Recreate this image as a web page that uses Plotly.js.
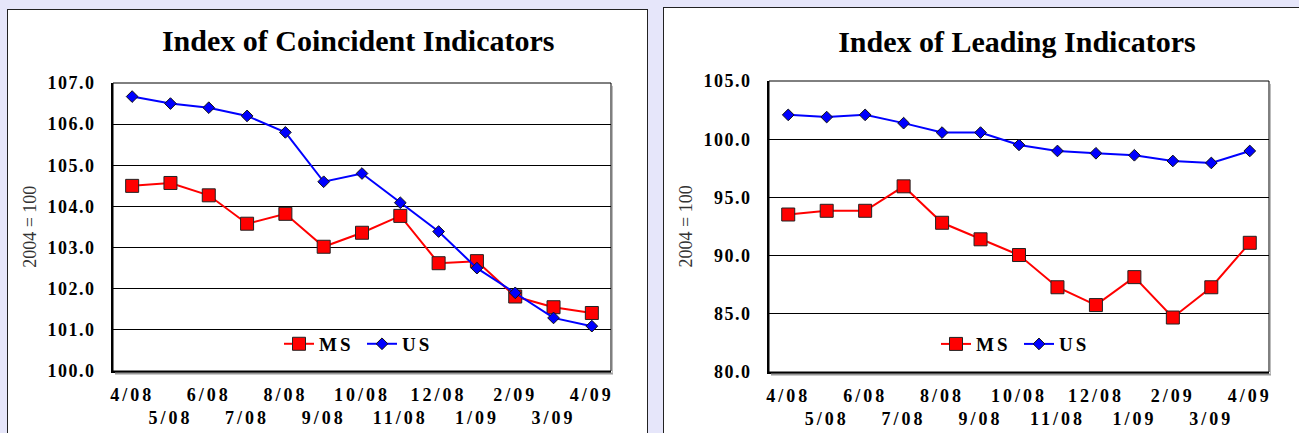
<!DOCTYPE html>
<html><head><meta charset="utf-8">
<script src="https://cdn.plot.ly/plotly-3.0.1.min.js"></script>
<style>
html,body{margin:0;padding:0;background:#e6e6fa;width:1299px;height:433px;overflow:hidden;}
.panel{position:absolute;border:1px solid #222;background:#fff;overflow:hidden;}
#p1{left:7px;top:9px;width:639px;height:440px;}
#p2{left:663px;top:7px;width:650px;height:440px;}
.xtick text{letter-spacing:3px;}
.ytick text{letter-spacing:1.5px;}
.legendtext{letter-spacing:3px;}
</style></head><body>
<div id="p1" class="panel"><div id="c1"></div></div>
<div id="p2" class="panel"><div id="c2"></div></div>
<script>
const months = ["4/08","5/08","6/08","7/08","8/08","9/08","10/08","11/08","12/08","1/09","2/09","3/09","4/09"];
const monthLabels = ["4/08","<br>5/08","6/08","<br>7/08","8/08","<br>9/08","10/08","<br>11/08","12/08","<br>1/09","2/09","<br>3/09","4/09"];
const coincidentMS = [104.5, 104.57, 104.27, 103.58, 103.82, 103.02, 103.36, 103.77, 102.62, 102.67, 101.81, 101.55, 101.41];
const coincidentUS = [106.67, 106.5, 106.4, 106.2, 105.8, 104.6, 104.8, 104.09, 103.39, 102.5, 101.9, 101.29, 101.09];
const leadingMS = [93.53, 93.85, 93.85, 95.95, 92.82, 91.4, 90.05, 87.28, 85.75, 88.15, 84.68, 87.28, 91.1];
const leadingUS = [102.09, 101.9, 102.09, 101.38, 100.57, 100.57, 99.51, 98.99, 98.79, 98.62, 98.13, 97.96, 98.99];
const seriesNames = ["MS", "US"];
const titles = ["Index of Coincident Indicators", "Index of Leading Indicators"];
const yAxisLabel = "2004 = 100";

const serif = "Liberation Serif, Times New Roman, serif";
function traces(ms, us){
  return [
    {x: months, y: ms, name: seriesNames[0], type:'scatter', mode:'lines+markers',
     line:{color:'#ff0000', width:2},
     marker:{symbol:'square', size:13, color:'#ff0000', line:{color:'#222', width:1}}},
    {x: months, y: us, name: seriesNames[1], type:'scatter', mode:'lines+markers',
     line:{color:'#0000ff', width:2},
     marker:{symbol:'diamond', size:9, color:'#0000ff', line:{color:'#111', width:1}}}
  ];
}
function layout(o){
  return {
    width:o.w, height:440,
    margin:{l:105, r:o.r, t:73, b:o.b, pad:0},
    paper_bgcolor:'#fff', plot_bgcolor:'#fff',
    showlegend:true,
    title:{text:o.title, font:{family:serif, size:30, weight:'bold', color:'#000'},
           xref:'container', x:o.tx, xanchor:'center', yref:'container', y:o.ty, yanchor:'middle'},
    xaxis:{type:'category', range:[-0.5,12.5], tickvals:months, ticktext:monthLabels, tickangle:0,
           tickfont:{family:serif, size:18, weight:'bold', color:'#000'},
           ticks:'outside', ticklen:6, tickcolor:'rgba(0,0,0,0)',
           showline:true, linewidth:2, linecolor:'#000', showgrid:false, zeroline:false, fixedrange:true},
    yaxis:{range:o.yr, dtick:o.dt, tick0:o.yr[0], tickformat:'.1f',
           tickfont:{family:serif, size:18, weight:'bold', color:'#000'},
           ticks:'outside', ticklen:12, tickcolor:'rgba(0,0,0,0)',
           showline:true, linewidth:2, linecolor:'#000', showgrid:true, gridcolor:'#000', gridwidth:1,
           zeroline:false, fixedrange:true},
    legend:{orientation:'h', x:o.lx, xanchor:'center', y:o.ly, yanchor:'middle', entrywidth:38,
            bgcolor:'rgba(0,0,0,0)', font:{family:serif, size:19, weight:'bold', color:'#000'}},
    shapes:[
      {type:'rect', xref:'paper', yref:'paper', x0:0, x1:1, y0:0, y1:1, line:{color:'#000', width:1}},
      {type:'line', xref:'paper', yref:'paper', x0:0.004, x1:1.004, ysizemode:'pixel', yanchor:0, y0:-2.5, y1:-2.5,
       line:{color:'#999', width:2}},
      {type:'line', xref:'paper', yref:'paper', xsizemode:'pixel', xanchor:1, x0:1.5, x1:1.5, y0:-0.008, y1:0.99,
       line:{color:'#bbb', width:1}}
    ],
    annotations:[{text:yAxisLabel, xref:'paper', yref:'paper', x:o.ax, y:0.5, xanchor:'center', yanchor:'middle',
                  textangle:-90, showarrow:false, font:{family:serif, size:18, color:'#333'}}]
  };
}
const cfg = {staticPlot:true, displayModeBar:false};
Plotly.newPlot('c1', traces(coincidentMS, coincidentUS),
  layout({w:639, r:36, b:79, title:titles[0], tx:0.548, ty:0.93, yr:[100,107], dt:1, lx:0.5, ly:0.094, ax:-0.167}), cfg);
Plotly.newPlot('c2', traces(leadingMS, leadingUS),
  layout({w:650, r:45, b:76, title:titles[1], tx:0.543, ty:0.925, yr:[80,105], dt:5, lx:0.5, ly:0.096, ax:-0.168}), cfg);
</script>
</body></html>
